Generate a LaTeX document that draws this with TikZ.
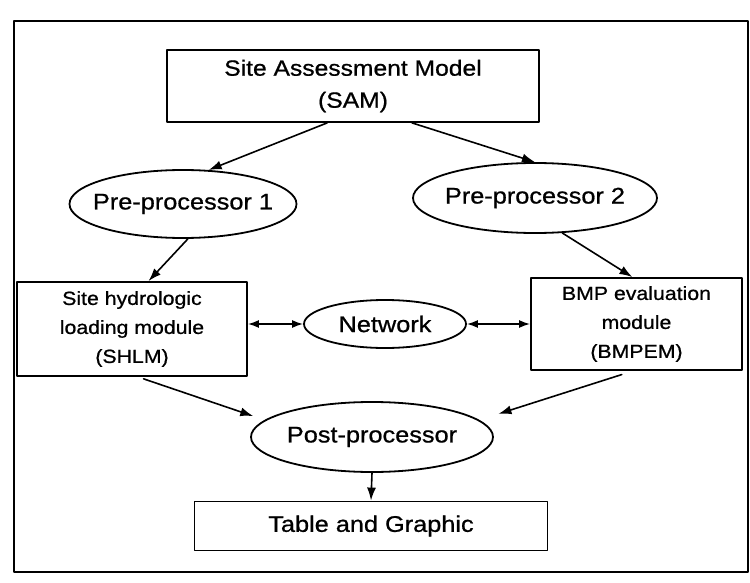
\documentclass[tikz,border=0pt]{standalone}
\usepackage{fontspec}
\setmainfont[FakeStretch=1.12,FakeBold=0.8]{Liberation Sans}
\usetikzlibrary{arrows.meta,shapes.geometric}

\begin{document}
\begin{tikzpicture}[line cap=round,line join=round,x=0.5pt,y=-0.5pt,
		box/.style={draw,rectangle,line width=0.9pt,align=center,inner sep=0pt,
			font=\fontsize{9.5}{14.5}\selectfont},
		oval/.style={draw,ellipse,line width=0.9pt,inner xsep=-6pt,inner ysep=0pt,
			font=\fontsize{11.3}{13}\selectfont},
		arr/.style={line width=0.8pt,-{Latex[length=6.5pt,width=4.5pt]}},
		darr/.style={line width=0.8pt,{Latex[length=5.5pt,width=4pt]}-{Latex[length=5.5pt,width=4pt]}}]
	\useasboundingbox (0,0) rectangle (750,583);
	% outer frame
	\draw[line width=1.3pt] (14,21) rectangle (748,572);
	% models and processors
	\node[box,minimum width=186pt,minimum height=36pt,font=\fontsize{11}{16}\selectfont] (sam) at (353,86) {Site Assessment Model\\(SAM)};
	\node[oval,minimum width=113.5pt,minimum height=34pt] (pre1) at (183,204) {Pre-processor 1};
	\node[oval,minimum width=122pt,minimum height=35pt] (pre2) at (535,198) {Pre-processor 2};
	\node[box,minimum width=115pt,minimum height=47pt] (shlm) at (132,329) {Site hydrologic\\loading module\\(SHLM)};
	\node[oval,minimum width=81pt,minimum height=24pt] (network) at (385,324) {Network};
	\node[box,minimum width=105.5pt,minimum height=46pt] (bmpem) at (636.5,324) {BMP evaluation\\module\\(BMPEM)};
	\node[oval,minimum width=121pt,minimum height=35pt] (post) at (372,437) {Post-processor};
	\node[box,minimum width=176.5pt,minimum height=24.5pt,font=\fontsize{11.3}{13}\selectfont] (table) at (371,526) {Table and Graphic};
	% connectors
	\draw[arr] (sam.-125) -- (pre1.53);
	\draw[arr] (sam.-32) -- (pre2.north);
	\draw[arr] (pre1.-82) -- (shlm.71);
	\draw[arr] (pre2.-52) -- (bmpem.95);
	\draw[darr] (network.west -| shlm.east) -- (network.west);
	\draw[darr] (network.east) -- (network.east -| bmpem.west);
	\draw[arr,shorten <=3pt,shorten >=6pt] (shlm.-83) -- (post.171);
	\draw[arr,shorten <=6pt,shorten >=10pt] (bmpem.-94) -- (post.9);
	\draw[arr] (post.south) -- (table.north);
\end{tikzpicture}
\end{document}
